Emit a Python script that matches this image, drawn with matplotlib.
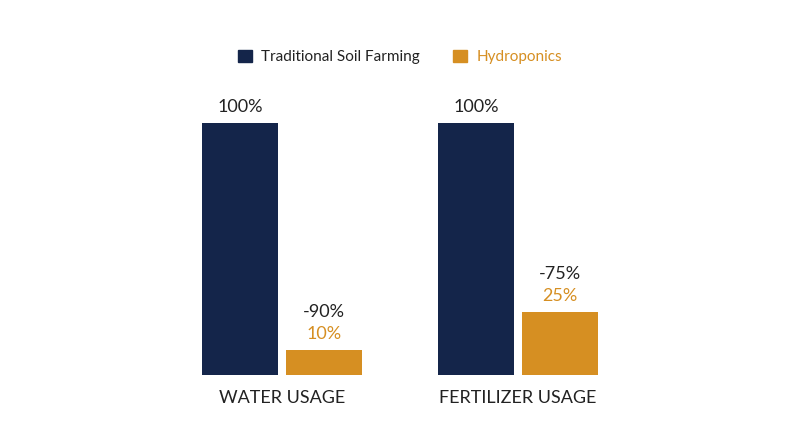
import matplotlib.pyplot as plt
from matplotlib.patches import Patch

# data
categories = ['WATER USAGE', 'FERTILIZER USAGE']
soil = [100, 100]
hydro = [10, 25]
reduction = ['-90%', '-75%']

navy = '#14254a'
gold = '#d68f22'
plt.rcParams['font.family'] = ['Lato', 'DejaVu Sans']

fig = plt.figure(figsize=(8, 4.47), dpi=100)
ax = fig.add_axes([0, 1 - 375 / 447, 1, (375 - 123) / 447])
ax.set_xlim(0, 800)
ax.set_ylim(0, 100)
ax.axis('off')

w = 76
gap = 8
for i, cat in enumerate(categories):
    c = 282 + i * 236
    x1 = c - gap / 2 - w / 2
    x2 = c + gap / 2 + w / 2
    ax.bar(x1, soil[i], width=w, color=navy)
    ax.bar(x2, hydro[i], width=w, color=gold)
    ax.text(x1, soil[i] + 3, f'{soil[i]}%', ha='center', va='bottom', fontsize=13, color='#222222')
    ax.text(x2, hydro[i] + 3, f'{hydro[i]}%', ha='center', va='bottom', fontsize=13, color=gold)
    ax.text(x2, hydro[i] + 12, reduction[i], ha='center', va='bottom', fontsize=13, color='#222222')
    ax.text(c, -6, cat, ha='center', va='top', fontsize=13, color='#222222')

handles = [Patch(color=navy, label='Traditional Soil Farming'),
           Patch(color=gold, label='Hydroponics')]
fig.legend(handles=handles, loc='center', bbox_to_anchor=(0.5, 1 - 57 / 447), ncol=2,
           frameon=False, fontsize=11, handlelength=0.9, handleheight=0.9,
           columnspacing=2.2, handletextpad=0.6, labelcolor=['#222222', gold])

fig.savefig('out.png', dpi=100)
